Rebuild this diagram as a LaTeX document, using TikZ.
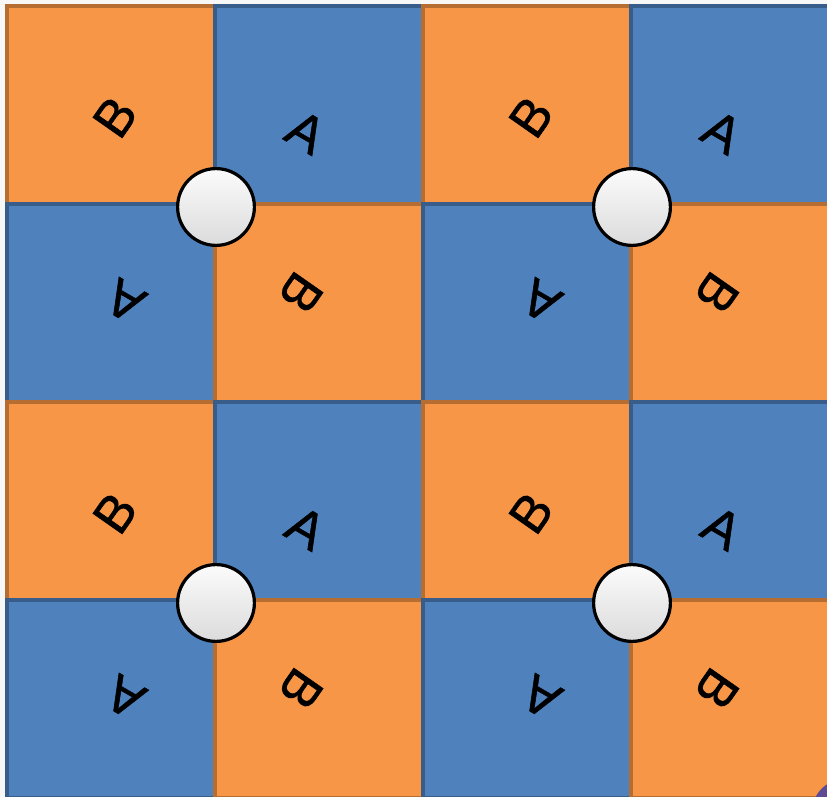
\documentclass[tikz,border=0pt]{standalone}
\usepackage{fontspec}
\setmainfont{Liberation Sans}
\newfontfamily\lblfont[FakeBold=1]{Liberation Sans}
\usetikzlibrary{calc}
\definecolor{tileB}{HTML}{F79646}
\definecolor{tileBedge}{HTML}{B66D31}
\definecolor{tileA}{HTML}{4F81BD}
\definecolor{tileAedge}{HTML}{385D8A}
\definecolor{cornerpurple}{HTML}{5E4A93}
\begin{document}
\begin{tikzpicture}[x=.25mm,y=.25mm,
	tileb/.style={fill=tileB,draw=tileBedge,line width=1mm},
	tilea/.style={fill=tileA,draw=tileAedge,line width=1mm},
	lbl/.style={font=\lblfont\fontsize{37}{37}\selectfont,inner sep=0pt},
	axis/.style={circle,draw=black,line width=.8mm,top color=gray!3,bottom color=gray!28,minimum size=19.2mm,inner sep=0pt}]
	\useasboundingbox(0,0)rectangle(827,797);
	\clip(0,0)rectangle(827,797);
	\fill[gray!6](0,0)rectangle(827,797);
	\foreach \i in {0,...,3}
		\foreach \j in {0,...,3}{
			\ifodd\numexpr\i+\j\relax
				\draw[tilea](7+208*\i,791-198*\j)rectangle+(208,-198);
			\else
				\draw[tileb](7+208*\i,791-198*\j)rectangle+(208,-198);
			\fi
		}
	\foreach \bx/\by [count=\n] in {0/0,1/0,0/1,1/1}{
		\coordinate (o\n) at (216+416*\bx,590-396*\by);
		\node[lbl,rotate=55](bt\n)at($(o\n)+(-101,90)$){B};
		\node[lbl,rotate=-30](at\n)at($(o\n)+(90,75)$){A};
		\node[lbl,rotate=150](ab\n)at($(o\n)+(-91,-94)$){A};
		\node[lbl,rotate=235](bb\n)at($(o\n)+(85,-86)$){B};
		\node[axis](ax\n)at(o\n){};
	}
	\fill[cornerpurple](845,-15)circle(33);
\end{tikzpicture}
\end{document}
